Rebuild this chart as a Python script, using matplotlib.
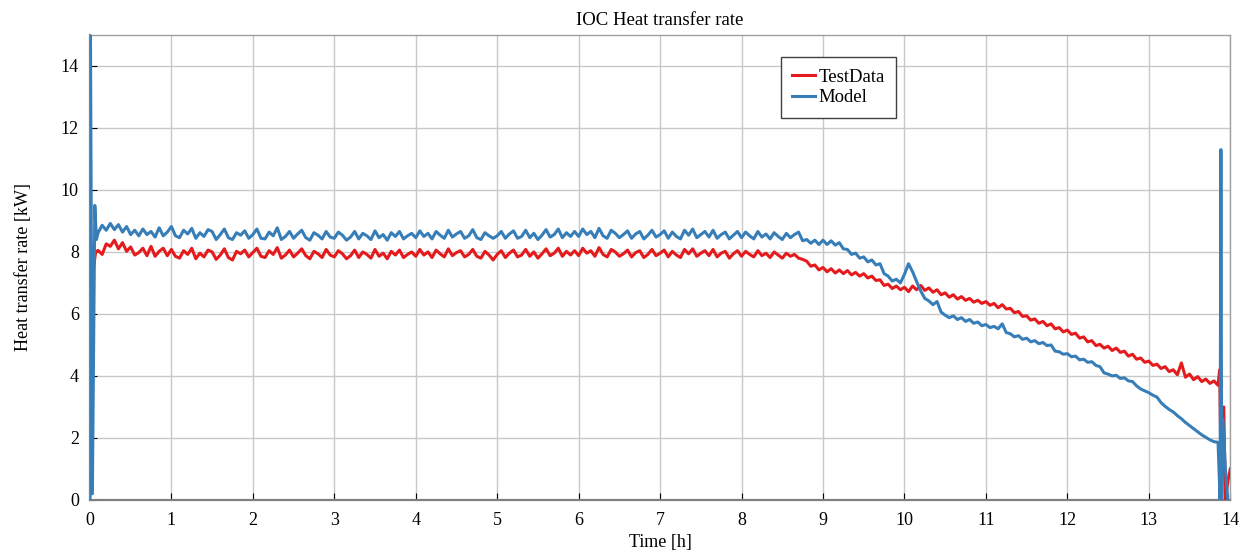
#Import Requirements
import numpy as np
import matplotlib.pyplot as plt

plt.rcParams['font.family'] = ['Liberation Serif', 'DejaVu Serif']

#Data
#regular samples every 0.05 h from 0.10 h to 13.85 h
t_main = np.round(np.arange(0.10, 13.8501, 0.05), 2)

#TestData, one row per hour
red_main = [
    8.05, 7.92, 8.26, 8.18, 8.38, 8.10, 8.30, 8.02, 8.16, 7.90, 7.98, 8.12, 7.88, 8.18, 7.86, 8.02, 8.12, 7.88,
    8.08, 7.86, 7.80, 8.04, 7.92, 8.12, 7.78, 7.96, 7.84, 8.06, 8.00, 7.76, 7.90, 8.10, 7.82, 7.74, 8.02, 7.94, 8.06, 7.84,
    7.98, 8.12, 7.86, 7.82, 8.04, 7.92, 8.14, 7.80, 7.90, 8.06, 7.84, 7.96, 8.10, 7.88, 7.78, 8.02, 7.94, 7.82, 8.08, 7.90,
    7.84, 8.04, 7.94, 7.78, 7.88, 8.06, 7.82, 8.00, 7.92, 7.80, 8.08, 7.86, 7.96, 7.78, 8.02, 7.90, 8.06, 7.82, 7.92, 8.00,
    7.86, 8.08, 7.90, 8.00, 7.82, 8.06, 7.94, 7.84, 8.10, 7.88, 7.98, 8.04, 7.84, 7.92, 8.08, 7.86, 7.80, 8.02, 7.90, 7.74,
    7.92, 8.04, 7.82, 7.96, 8.06, 7.84, 7.90, 8.08, 7.86, 8.00, 7.80, 7.94, 8.10, 7.88, 7.96, 8.12, 7.86, 8.02, 7.90, 8.04,
    7.88, 8.12, 7.96, 8.04, 7.86, 8.14, 7.92, 7.84, 8.08, 8.00, 7.86, 7.94, 8.06, 7.84, 7.98, 8.04, 7.82, 7.92, 8.08, 7.88,
    7.96, 8.06, 7.84, 8.02, 7.90, 7.82, 8.08, 7.94, 8.10, 7.86, 7.96, 8.04, 7.88, 8.08, 7.84, 7.96, 8.02, 7.80, 7.94, 8.04,
    7.86, 8.02, 7.92, 7.84, 8.04, 7.88, 7.96, 7.82, 8.00, 7.90, 7.80, 7.96, 7.86, 7.92, 7.80, 7.76, 7.70, 7.54, 7.58, 7.42,
    7.50, 7.36, 7.46, 7.32, 7.42, 7.30, 7.40, 7.26, 7.34, 7.22, 7.30, 7.16, 7.22, 7.08, 7.10, 6.92, 6.96, 6.82, 6.90, 6.78,
    6.86, 6.72, 6.90, 6.78, 6.92, 6.76, 6.84, 6.70, 6.78, 6.62, 6.68, 6.54, 6.62, 6.48, 6.56, 6.44, 6.50, 6.38, 6.44, 6.34,
    6.40, 6.28, 6.34, 6.20, 6.30, 6.16, 6.18, 6.04, 6.08, 5.92, 5.94, 5.80, 5.84, 5.70, 5.76, 5.62, 5.68, 5.52, 5.56, 5.42,
    5.48, 5.34, 5.38, 5.22, 5.26, 5.10, 5.14, 4.98, 5.02, 4.90, 4.96, 4.82, 4.90, 4.76, 4.80, 4.64, 4.70, 4.54, 4.58, 4.44,
    4.48, 4.34, 4.38, 4.24, 4.30, 4.14, 4.20, 4.04, 4.42, 3.96, 4.06, 3.88, 3.98, 3.82, 3.90, 3.76, 3.84, 3.70,
]
red_start_t = [0.0, 0.02, 0.03, 0.05, 0.07]
red_start_v = [8.15, 7.65, 8.20, 7.60, 8.00]
red_end_t = [13.87, 13.89, 13.92, 13.94, 13.97, 14.0]
red_end_v = [4.20, 0.20, 3.00, 0.00, 0.60, 1.00]

#Model, one row per hour
blue_main = [
    8.62, 8.86, 8.70, 8.92, 8.72, 8.88, 8.64, 8.82, 8.56, 8.70, 8.52, 8.74, 8.56, 8.66, 8.48, 8.78, 8.52, 8.64,
    8.82, 8.52, 8.46, 8.70, 8.58, 8.76, 8.44, 8.62, 8.50, 8.72, 8.66, 8.40, 8.56, 8.74, 8.46, 8.40, 8.62, 8.54, 8.68, 8.44,
    8.56, 8.74, 8.44, 8.42, 8.64, 8.52, 8.78, 8.40, 8.50, 8.66, 8.44, 8.58, 8.70, 8.46, 8.38, 8.62, 8.54, 8.42, 8.66, 8.48,
    8.44, 8.64, 8.54, 8.38, 8.48, 8.66, 8.42, 8.60, 8.52, 8.40, 8.68, 8.46, 8.56, 8.38, 8.62, 8.50, 8.66, 8.42, 8.52, 8.60,
    8.46, 8.68, 8.50, 8.60, 8.42, 8.66, 8.54, 8.44, 8.70, 8.48, 8.58, 8.66, 8.44, 8.52, 8.72, 8.46, 8.40, 8.62, 8.52, 8.44,
    8.52, 8.66, 8.44, 8.58, 8.68, 8.44, 8.50, 8.70, 8.46, 8.60, 8.40, 8.54, 8.72, 8.48, 8.56, 8.74, 8.46, 8.62, 8.50, 8.66,
    8.50, 8.74, 8.56, 8.66, 8.46, 8.76, 8.52, 8.44, 8.70, 8.60, 8.46, 8.56, 8.68, 8.44, 8.58, 8.66, 8.42, 8.54, 8.70, 8.48,
    8.56, 8.68, 8.44, 8.64, 8.50, 8.42, 8.70, 8.54, 8.74, 8.46, 8.56, 8.66, 8.48, 8.70, 8.44, 8.56, 8.64, 8.42, 8.54, 8.66,
    8.46, 8.64, 8.52, 8.42, 8.66, 8.48, 8.58, 8.42, 8.62, 8.50, 8.40, 8.60, 8.46, 8.56, 8.64, 8.36, 8.40, 8.28, 8.38, 8.24,
    8.38, 8.24, 8.36, 8.22, 8.30, 8.10, 8.08, 7.92, 7.96, 7.80, 7.84, 7.68, 7.74, 7.58, 7.62, 7.30, 7.22, 7.06, 7.12, 7.00,
    7.28, 7.62, 7.36, 7.04, 6.74, 6.50, 6.42, 6.30, 6.40, 6.06, 5.96, 5.88, 5.94, 5.82, 5.88, 5.76, 5.82, 5.70, 5.74, 5.62,
    5.66, 5.56, 5.60, 5.52, 5.68, 5.40, 5.36, 5.26, 5.30, 5.18, 5.22, 5.10, 5.14, 5.04, 5.08, 4.98, 5.00, 4.80, 4.78, 4.70,
    4.72, 4.62, 4.64, 4.52, 4.54, 4.44, 4.46, 4.34, 4.30, 4.10, 4.06, 4.00, 4.02, 3.92, 3.94, 3.84, 3.82, 3.68, 3.58, 3.52,
    3.46, 3.38, 3.32, 3.14, 3.02, 2.92, 2.84, 2.72, 2.62, 2.50, 2.40, 2.30, 2.20, 2.10, 2.02, 1.94, 1.88, 1.86,
]
blue_start_t = [0.0, 0.005, 0.03, 0.06, 0.08]
blue_start_v = [0.0, 16.0, 0.2, 9.5, 8.4]
blue_end_t = [13.875, 13.885, 13.895, 13.91, 13.94, 13.97]
blue_end_v = [0.0, 11.3, 0.0, 2.6, 1.0, 0.0]

t_red = np.concatenate([red_start_t, t_main, red_end_t])
v_red = np.concatenate([red_start_v, red_main, red_end_v])
t_blue = np.concatenate([blue_start_t, t_main, blue_end_t])
v_blue = np.concatenate([blue_start_v, blue_main, blue_end_v])

#Graph Data
fig = plt.figure(figsize=(12.49, 5.54), dpi=100)
ax = fig.add_axes([0.072, 0.0975, 0.913, 0.8395])

ax.plot(t_red, v_red, color='#E41A1C', lw=2.2, label='TestData', zorder=3)
ax.plot(t_blue, v_blue, color='#377EB8', lw=2.2, label='Model', zorder=3)

ax.set_xlim(0, 14)
ax.set_ylim(0, 15)
ax.set_xticks(np.arange(0, 15, 1))
ax.set_yticks(np.arange(0, 15, 2))
ax.grid(True, color='#c8c8c8', lw=1)
ax.set_axisbelow(True)
ax.tick_params(direction='in', length=5, labelsize=13, colors='black')
ax.tick_params(axis='x', pad=9)
ax.tick_params(axis='y', pad=8)

for side in ['left', 'bottom']:
    ax.spines[side].set_color('#808080')
    ax.spines[side].set_linewidth(1.6)
for side in ['top', 'right']:
    ax.spines[side].set_color('#a0a0a0')
    ax.spines[side].set_linewidth(1.0)

ax.set_title("IOC Heat transfer rate", fontsize=13.5, pad=7)
ax.set_xlabel("Time [h]", fontsize=13, labelpad=3)
ax.set_ylabel("Heat transfer rate [kW]", fontsize=13, labelpad=21)

leg = ax.legend(loc='upper left', bbox_to_anchor=(0.606, 0.952), fontsize=13.5,
                fancybox=False, framealpha=1, edgecolor='#404040',
                handlelength=1.2, handletextpad=0.2, borderpad=0.6,
                labelspacing=0.2, borderaxespad=0)
leg.get_frame().set_linewidth(1.0)

fig.savefig("out.png", dpi=100)
